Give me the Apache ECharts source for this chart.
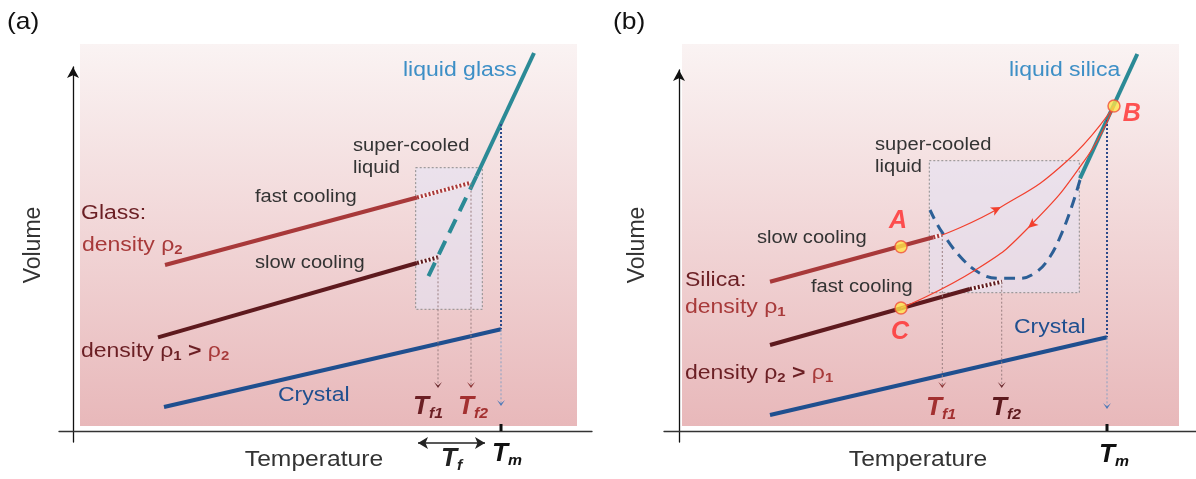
<!DOCTYPE html>
<html>
<head>
<meta charset="utf-8">
<title>Glass transition schematic</title>
<script src="https://cdn.jsdelivr.net/npm/echarts@6/dist/echarts.min.js"></script>
<style>
html, body { margin: 0; padding: 0; background: #fff; }
#chart { width: 1196px; height: 479px; }
</style>
</head>
<body>
<div id="chart"></div>
<script>
const FONT = 'Liberation Sans, Arial, Helvetica, sans-serif'

// ---- panel (a) glass : temperature / volume, arbitrary units from the axis origin
const aLiquidT = [461, 403.5]
const aLiquidV = [378, 255]
const aSuperT = [403.5, 355]
const aSuperV = [255, 154]
const aFastT = [92, 344]
const aFastV = [166, 233.5]
const aFastGlassT = [344, 398]
const aFastGlassV = [233.5, 248.3]
const aSlowT = [85, 344]
const aSlowV = [93.7, 168]
const aSlowGlassT = [344, 365]
const aSlowGlassV = [168, 173.7]
const aCrystalT = [91, 428]
const aCrystalV = [24, 101.7]
const aBoxT = [342.7, 409.3]
const aBoxV = [121.7, 263.3]
const aTf = [365, 398] // Tf1, Tf2
const aTm = 428
const aTmTop = 307
const aTfRangeT = [345, 412] // the <-> Tf arrow

// ---- panel (b) silica
const bLiquidT = [458.3, 401]
const bLiquidV = [377, 252.7]
const bSuperT = [401, 392.7, 382.7, 371, 357.7, 341, 321, 304.3, 284.3, 262.7, 251]
const bSuperV = [251, 224.3, 197.7, 174.3, 159.3, 152.7, 152.7, 156, 171, 199.3, 221]
const bSlowT = [91, 254.3]
const bSlowV = [149.3, 193.7]
const bSlowGlassT = [254.3, 262.7]
const bSlowGlassV = [193.7, 196]
const bFastT = [91, 291]
const bFastV = [86, 142]
const bFastGlassT = [291, 323]
const bFastGlassV = [142, 149.3]
const bCrystalT = [91, 428]
const bCrystalV = [16, 93.7]
const bBoxT = [250.3, 400.3]
const bBoxV = [138.3, 270.3]
const bTf = [263.3, 322.7]
const bTm = 428
const bTmTop = 311
const bHeatT = [263, 322, 388, 435] // A -> B
const bHeatV = [196, 224, 270, 325]
const bQuenchT = [222, 298, 349, 408, 435] // B -> C
const bQuenchV = [123, 162, 203, 274, 325]
const bPointName = ['A', 'B', 'C']
const bPointT = [222, 435, 222]
const bPointV = [184.3, 325, 123]

const TIP = 'path://M0,0L5,7L10,0L5,4Z'
const pts = (T, V) => T.map((t, i) => [t, V[i]])

function line (idx, T, V, color, width, type, extra) {
  return Object.assign({
    type: 'line',
    xAxisIndex: idx,
    yAxisIndex: idx,
    data: pts(T, V),
    symbol: 'none',
    showSymbol: false,
    clip: false,
    silent: true,
    animation: false,
    lineStyle: { color: color, width: width, type: type || 'solid', cap: 'butt' },
    itemStyle: { color: color }
  }, extra || {})
}

// dotted drop line with a small arrow tip at the bottom
function drop (idx, t, v0, v1, color, width, type, tipColor) {
  return line(idx, [t, t], [v0, v1], color, width, type, {
    showSymbol: true,
    data: [[t, v0], { value: [t, v1], symbol: TIP, symbolSize: [8, 6], symbolOffset: [0, -2], itemStyle: { color: tipColor } }]
  })
}

// textured "frozen" segment: pale base + fine red dashes
function glassy (idx, T, V, color) {
  return [
    line(idx, T, V, 'rgba(255,245,245,0.9)', 4),
    line(idx, T, V, color, 4, [2, 2])
  ]
}

function box (idx, T, V) {
  return line(idx, T, V, 'rgba(0,0,0,0)', 0, 'solid', {
    z: 1,
    markArea: {
      silent: true,
      itemStyle: { color: 'rgba(228,226,244,0.6)', borderColor: '#8c8c8c', borderWidth: 1, borderType: [2, 2] },
      data: [[{ coord: [T[0], V[1]] }, { coord: [T[1], V[0]] }]]
    }
  })
}

function arrowAt (T, V, k, rot) {
  const d = pts(T, V)
  d[k] = { value: d[k], symbol: 'arrow', symbolSize: [7, 10], symbolRotate: rot }
  return d
}

const series = [
  box(0, aBoxT, aBoxV),
  line(0, aFastT, aFastV, '#a8393a', 4),
  ...glassy(0, aFastGlassT, aFastGlassV, '#a8393a'),
  line(0, aSlowT, aSlowV, '#5e1a1e', 4),
  ...glassy(0, aSlowGlassT, aSlowGlassV, '#5e1a1e'),
  line(0, aCrystalT, aCrystalV, '#1f4f8f', 4),
  line(0, aLiquidT, aLiquidV, '#2b8a96', 4),
  line(0, aSuperT, aSuperV, '#2b8a96', 4, [15, 9]),
  drop(0, aTf[0], aSlowGlassV[1], 44, '#9a7f80', 1, [2, 2], '#6b2a2e'),
  drop(0, aTf[1], aFastGlassV[1], 44, '#9a7f80', 1, [2, 2], '#8c3434'),
  line(0, [aTm, aTm], [aTmTop, aCrystalV[1]], '#2b4a8a', 2, [2, 2]),
  drop(0, aTm, aCrystalV[1], 26, '#8aa0c4', 1, [2, 2], '#4a78b8'),
  line(0, [aTm, aTm], [0, 7], '#111', 3),
  line(0, aTfRangeT, [-12, -12], '#222', 1.5, 'solid', {
    showSymbol: true,
    data: [
      { value: [aTfRangeT[0], -12], symbol: 'arrow', symbolSize: [9, 10], symbolRotate: 90 },
      { value: [aTfRangeT[1], -12], symbol: 'arrow', symbolSize: [9, 10], symbolRotate: -90 }
    ]
  }),

  box(1, bBoxT, bBoxV),
  line(1, bSlowT, bSlowV, '#a8393a', 4),
  ...glassy(1, bSlowGlassT, bSlowGlassV, '#a8393a'),
  line(1, bFastT, bFastV, '#5e1a1e', 4),
  ...glassy(1, bFastGlassT, bFastGlassV, '#5e1a1e'),
  line(1, bCrystalT, bCrystalV, '#1f4f8f', 4),
  line(1, bLiquidT, bLiquidV, '#2b8a96', 4),
  line(1, bSuperT, bSuperV, '#2c5f96', 3, [11, 7], { smooth: 0.4 }),
  drop(1, bTf[0], bSlowGlassV[1], 44, '#9a7f80', 1, [2, 2], '#8c3434'),
  drop(1, bTf[1], bFastGlassV[1], 44, '#9a7f80', 1, [2, 2], '#6b2a2e'),
  line(1, [bTm, bTm], [bTmTop, bCrystalV[1]], '#2b4a8a', 2, [2, 2]),
  drop(1, bTm, bCrystalV[1], 23, '#8aa0c4', 1, [2, 2], '#4a78b8'),
  line(1, [bTm, bTm], [0, 7], '#111', 3),
  line(1, bHeatT, bHeatV, '#f2402e', 1.2, 'solid', { smooth: 0.5, showSymbol: true, data: arrowAt(bHeatT, bHeatV, 1, -63) }),
  line(1, bQuenchT, bQuenchV, '#f2402e', 1.2, 'solid', { smooth: 0.5, showSymbol: true, data: arrowAt(bQuenchT, bQuenchV, 2, 131) }),
  {
    type: 'scatter',
    xAxisIndex: 1,
    yAxisIndex: 1,
    silent: true,
    animation: false,
    z: 5,
    symbolSize: 12,
    itemStyle: { color: '#ffe34a', borderColor: '#f0503a', borderWidth: 1.5 },
    label: {
      show: true,
      formatter: p => p.name,
      fontFamily: FONT,
      fontSize: 25,
      fontWeight: 'bold',
      fontStyle: 'italic',
      color: '#ff2a2a'
    },
    data: bPointName.map((n, i) => ({
      name: n,
      value: [bPointT[i], bPointV[i]],
      label: [
        { position: 'top', distance: 6, offset: [-3, 0] },
        { position: 'right', distance: 2, offset: [0, 8] },
        { position: 'bottom', distance: 5, offset: [-1, 0] }
      ][i]
    }))
  }
]

// text helpers (fixed layout positions)
function txt (x, y, text, size, color, style, extra) {
  return Object.assign({
    type: 'text',
    x: x,
    y: y,
    scaleX: 1.15,
    z: 50,
    silent: true,
    style: Object.assign({
      text: text,
      fill: color,
      fontSize: size,
      fontFamily: FONT,
      align: 'left',
      verticalAlign: 'middle'
    }, style || {})
  }, extra || {})
}

function rho (x, y, text, c1, c2) {
  // {d|..} dark, {r|..} red, {ds|..}/{rs|..} subscripts
  return txt(x, y, text, 20, c1, {
    rich: {
      d: { fill: c1, fontSize: 20, fontFamily: FONT, lineHeight: 24 },
      ds: { fill: c1, fontSize: 13, fontFamily: FONT, fontWeight: 'bold', verticalAlign: 'bottom', lineHeight: 15 },
      g: { fill: c1, fontSize: 20, fontFamily: FONT, fontWeight: 'bold', lineHeight: 24 },
      r: { fill: c2, fontSize: 20, fontFamily: FONT, lineHeight: 24 },
      rs: { fill: c2, fontSize: 13, fontFamily: FONT, fontWeight: 'bold', verticalAlign: 'bottom', lineHeight: 15 }
    }
  })
}

function tsub (x, y, sub, color, big) {
  const s = big || 25
  return txt(x, y, '{t|T}{s|' + sub + '}', s, color, {
    rich: {
      t: { fill: color, fontSize: s, fontFamily: FONT, fontWeight: 'bold', fontStyle: 'italic', lineHeight: 28 },
      s: { fill: color, fontSize: 15, fontFamily: FONT, fontWeight: 'bold', fontStyle: 'italic', verticalAlign: 'bottom', lineHeight: 16 }
    }
  }, { scaleX: 1.05 })
}

function panelBg (x) {
  return {
    type: 'rect',
    z: -1,
    silent: true,
    shape: { x: x, y: 44, width: 497, height: 382 },
    style: {
      fill: {
        type: 'linear', x: 0, y: 0, x2: 0, y2: 1,
        colorStops: [{ offset: 0, color: '#faf3f3' }, { offset: 1, color: '#e8b8ba' }]
      }
    }
  }
}

const DARK = '#6b1f24'
const RED = '#a83a3a'
const GREY = '#333'

const elements = [
  panelBg(80),
  panelBg(682),

  txt(7, 22, '(a)', 24, '#111', null, { scaleX: 1.1 }),
  txt(34, 245, 'Volume', 23, GREY, { align: 'center' }, { rotation: Math.PI / 2, scaleX: 1 }),
  txt(403, 70, 'liquid glass', 20, '#3d8fc6'),
  txt(353, 146, 'super-cooled', 17.5, GREY),
  txt(353, 168, 'liquid', 17.5, GREY),
  txt(255, 197, 'fast cooling', 17.5, GREY),
  txt(255, 263, 'slow cooling', 17.5, GREY),
  txt(81, 213, 'Glass:', 20, DARK),
  rho(82, 245, '{r|density ρ}{rs|2}', RED, RED),
  rho(81, 351, '{d|density ρ}{ds|1}{g| > }{r|ρ}{rs|2}', DARK, RED),
  txt(278, 395, 'Crystal', 20, '#1f4f8f'),
  tsub(413, 407, 'f1', '#6b1f24'),
  tsub(458, 407, 'f2', '#a33030'),
  txt(314, 460, 'Temperature', 22, GREY, { align: 'center' }, { scaleX: 1.12 }),
  tsub(441, 459, 'f', '#222'),
  tsub(492, 454, 'm', '#111'),

  txt(613, 22, '(b)', 24, '#111', null, { scaleX: 1.1 }),
  txt(638, 245, 'Volume', 23, GREY, { align: 'center' }, { rotation: Math.PI / 2, scaleX: 1 }),
  txt(1009, 70, 'liquid silica', 20, '#3d8fc6'),
  txt(875, 145, 'super-cooled', 17.5, GREY),
  txt(875, 167, 'liquid', 17.5, GREY),
  txt(757, 238, 'slow cooling', 17.5, GREY),
  txt(685, 280, 'Silica:', 20, DARK),
  txt(811, 287, 'fast cooling', 17.5, GREY),
  rho(685, 307, '{r|density ρ}{rs|1}', RED, RED),
  txt(1014, 327, 'Crystal', 20, '#1f4f8f'),
  rho(685, 373, '{d|density ρ}{ds|2}{g| > }{r|ρ}{rs|1}', DARK, RED),
  tsub(926, 408, 'f1', '#a33030'),
  tsub(991, 408, 'f2', '#5e1a1e'),
  txt(918, 460, 'Temperature', 22, GREY, { align: 'center' }, { scaleX: 1.12 }),
  tsub(1099, 455, 'm', '#111')
]

function axisPair (min, max) {
  return {
    type: 'value',
    min: min,
    max: max,
    splitLine: { show: false },
    axisTick: { show: false },
    axisLabel: { show: false },
    axisLine: { onZero: true, lineStyle: { color: '#333', width: 1.3 } }
  }
}

const chart = echarts.init(document.getElementById('chart'))
chart.setOption({
  animation: false,
  backgroundColor: '#fff',
  grid: [
    { left: 59, top: 67, width: 533, height: 375 },
    { left: 664, top: 70, width: 532, height: 372 }
  ],
  xAxis: [
    Object.assign(axisPair(-14, 519), { gridIndex: 0 }),
    Object.assign(axisPair(-15, 517), { gridIndex: 1 })
  ],
  yAxis: [
    Object.assign(axisPair(-11, 364), { gridIndex: 0 }),
    Object.assign(axisPair(-11, 361), { gridIndex: 1 })
  ].map(a => {
    a.axisLine.symbol = ['none', 'arrow']
    a.axisLine.symbolSize = [9, 11]
    a.axisLine.lineStyle.color = '#111'
    return a
  }),
  graphic: { elements: elements },
  series: series
})
</script>
</body>
</html>
